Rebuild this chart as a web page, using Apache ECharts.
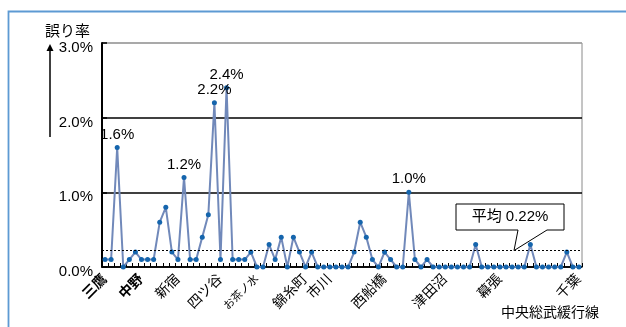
<!DOCTYPE html>
<html>
<head>
<meta charset="utf-8">
<script src="https://cdn.jsdelivr.net/npm/echarts@6/dist/echarts.min.js"></script>
<style>
  html,body{margin:0;padding:0;background:#fff;}
  #chart{width:626px;height:327px;}
</style>
</head>
<body>
<div id="chart"></div>
<script>
// 誤り率 (%) 各点
const errRate = [
  0.1, 0.1, 1.6, 0.0, 0.1, 0.2, 0.1, 0.1, 0.1, 0.6,
  0.8, 0.2, 0.1, 1.2, 0.1, 0.1, 0.4, 0.7, 2.2, 0.1,
  2.4, 0.1, 0.1, 0.1, 0.2, 0.0, 0.0, 0.3, 0.1, 0.4,
  0.0, 0.4, 0.2, 0.0, 0.2, 0.0, 0.0, 0.0, 0.0, 0.0,
  0.0, 0.2, 0.6, 0.4, 0.1, 0.0, 0.2, 0.1, 0.0, 0.0,
  1.0, 0.1, 0.0, 0.1, 0.0, 0.0, 0.0, 0.0, 0.0, 0.0,
  0.0, 0.3, 0.0, 0.0, 0.0, 0.0, 0.0, 0.0, 0.0, 0.0,
  0.3, 0.0, 0.0, 0.0, 0.0, 0.0, 0.2, 0.0, 0.0
]
// 駅名ラベルとその位置
const stationNames = ['三鷹', '中野', '新宿', '四ツ谷', 'お茶ノ水', '錦糸町', '市川', '西船橋', '津田沼', '幕張', '千葉']
const stationIdx = [0, 6, 12, 19, 25, 33, 37, 46, 56, 65, 78]
const boldStations = ['三鷹', '中野']
const smallStations = ['お茶ノ水']
const yTicks = [0, 1, 2, 3]
const avgRate = 0.22
const lineName = '中央総武緩行線'

let categories = errRate.map(() => '')
stationIdx.forEach((idx, i) => { categories[idx] = stationNames[i] })

const FONT = "'Liberation Sans', 'Noto Sans CJK JP', sans-serif"

let chart = echarts.init(document.getElementById('chart'))
let option = {
  animation: false,
  textStyle: { fontFamily: FONT },
  grid: {
    left: 102, right: 44, top: 43, bottom: 60,
    show: true, borderColor: '#8a8a8a', borderWidth: 1,
    outerBoundsMode: 'none'
  },
  xAxis: {
    type: 'category',
    data: categories,
    boundaryGap: true,
    axisLine: { show: true, lineStyle: { color: '#000', width: 1.5 } },
    axisTick: { show: true, inside: true, length: 4, interval: 0, lineStyle: { color: '#000' } },
    axisLabel: {
      interval: 0, rotate: 45, margin: 10, color: '#000', fontSize: 14, fontFamily: FONT,
      formatter: function (val) {
        if (!val) return ''
        if (boldStations.indexOf(val) >= 0) return '{b|' + val + '}'
        if (smallStations.indexOf(val) >= 0) return '{s|' + val + '}'
        return val
      },
      rich: {
        b: { fontWeight: 'bold', fontSize: 14, fontFamily: FONT, color: '#000' },
        s: { fontSize: 11, fontFamily: FONT, color: '#000' }
      }
    },
    splitLine: { show: false }
  },
  yAxis: {
    type: 'value',
    min: yTicks[0], max: yTicks[yTicks.length - 1], interval: 1,
    axisLine: { show: true, lineStyle: { color: '#000', width: 2 } },
    axisTick: { show: true, inside: true, length: 5, lineStyle: { color: '#000', width: 1.5 } },
    axisLabel: {
      margin: 9, color: '#000', fontSize: 15, fontFamily: FONT,
      verticalAlign: 'top', lineHeight: 10,
      formatter: v => v.toFixed(1) + '%'
    },
    splitLine: { show: true, lineStyle: { color: ['#000', '#000', '#000', '#a0a0a0'], width: 1.6 } }
  },
  series: [{
    type: 'line',
    data: errRate.map(v => v >= 1 ? { value: v, label: { show: true } } : v),
    symbol: 'circle',
    symbolSize: 5,
    itemStyle: { color: '#1565ad' },
    lineStyle: { color: '#7189ba', width: 2 },
    label: {
      show: false, position: 'top', distance: 3, color: '#000', fontSize: 15, fontFamily: FONT,
      formatter: p => p.value.toFixed(1) + '%'
    },
    markLine: {
      silent: true,
      symbol: ['none', 'none'],
      label: { show: false },
      lineStyle: { color: '#000', type: [2, 2], width: 1 },
      data: [{ yAxis: avgRate }]
    },
    z: 3
  }]
}
chart.setOption(option)

// 平均の吹き出し、矢印、枠
let tipY = chart.convertToPixel({ yAxisIndex: 0 }, avgRate)
chart.setOption({
  graphic: [
    { type: 'rect', shape: { x: 8.5, y: 11.5, width: 700, height: 400 },
      style: { fill: 'none', stroke: '#5d9ad3', lineWidth: 1.8 }, silent: true },
    { type: 'text', left: 45, top: 24, style: { text: '誤り率', fontSize: 15, fontFamily: FONT, fill: '#000' } },
    { type: 'line', shape: { x1: 50, y1: 137, x2: 50, y2: 50 }, style: { stroke: '#000', lineWidth: 1.5 } },
    { type: 'polygon', shape: { points: [[46.5, 51], [53.5, 51], [50, 44]] }, style: { fill: '#000' } },
    { type: 'polygon', z: 10,
      shape: { points: [[456, 204], [564, 204], [564, 230], [547, 230], [514, tipY], [518, 230], [456, 230]] },
      style: { fill: '#fff', stroke: '#000', lineWidth: 1 } },
    { type: 'text', z: 11, x: 510, y: 217,
      style: { text: '平均 0.22%', fontSize: 15, fontFamily: FONT, fill: '#000', align: 'center', verticalAlign: 'middle' } },
    { type: 'text', x: 599, y: 313,
      style: { text: lineName, fontSize: 14, fontFamily: FONT, fill: '#000', align: 'right', verticalAlign: 'middle' } }
  ]
})
</script>
</body>
</html>
